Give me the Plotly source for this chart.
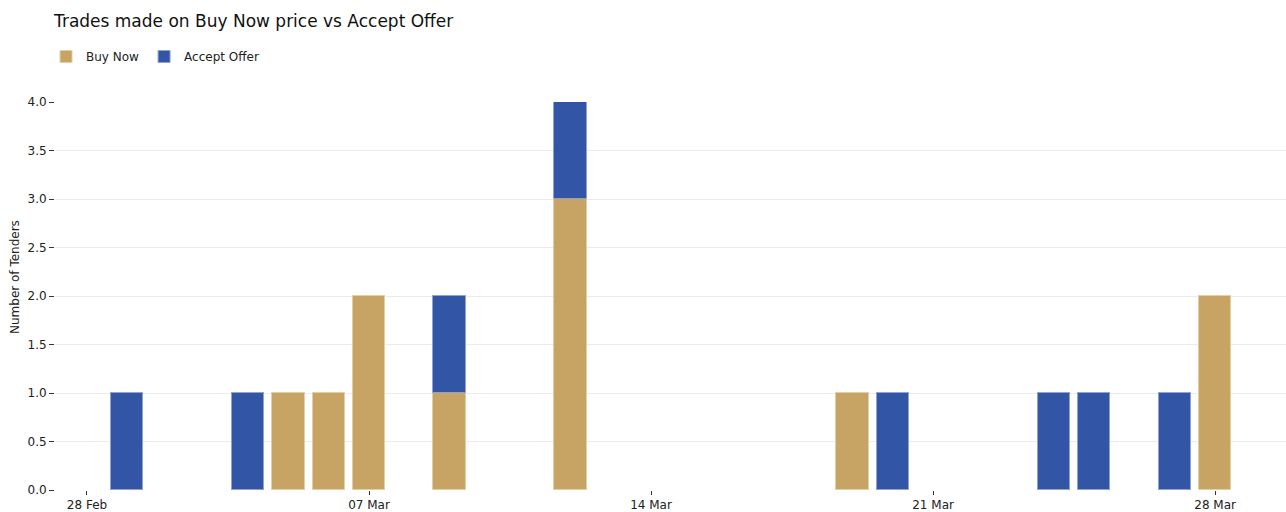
import plotly.graph_objects as go

dates = ["2023-03-01", "2023-03-04", "2023-03-05", "2023-03-06", "2023-03-07",
         "2023-03-09", "2023-03-12", "2023-03-19", "2023-03-20", "2023-03-24",
         "2023-03-25", "2023-03-27", "2023-03-28"]
buy_now = [None, None, 1, 1, 2, 1, 3, 1, None, None, None, None, 2]
accept_offer = [1, 1, None, None, None, 1, 1, None, 1, 1, 1, 1, None]

tick_vals = ["2023-02-28", "2023-03-07", "2023-03-14", "2023-03-21", "2023-03-28"]
tick_text = ["28 Feb", "07 Mar", "14 Mar", "21 Mar", "28 Mar"]

DAY_MS = 86400000
font = "DejaVu Sans"

fig = go.Figure()
fig.add_bar(x=dates, y=buy_now, name="Buy Now", width=0.8 * DAY_MS,
            marker=dict(color="#C8A464", line=dict(color="#E3CFA6", width=1)))
fig.add_bar(x=dates, y=accept_offer, name="Accept Offer", width=0.8 * DAY_MS,
            marker=dict(color="#3355A5", line=dict(color="#8FA3D1", width=1)))

fig.update_layout(
    barmode="stack",
    width=1286, height=512,
    paper_bgcolor="white", plot_bgcolor="white",
    font=dict(family=font, size=12, color="#222"),
    margin=dict(l=55, r=0, t=102, b=22),
    title=dict(text="Trades made on Buy Now price vs Accept Offer",
               x=54 / 1286, xanchor="left", y=1 - 21 / 512, yanchor="middle",
               font=dict(size=17, color="#111")),
    legend=dict(orientation="h", x=46 / 1286, xref="container", xanchor="left",
                y=1 - 42 / 512, yref="container", yanchor="top",
                font=dict(size=12), traceorder="normal",
                bgcolor="rgba(0,0,0,0)"),
    bargap=0,
    annotations=[dict(text="Number of Tenders", textangle=-90,
                      xref="paper", yref="paper", x=-40 / 1231, y=(490 - 277) / 388,
                      xanchor="center", yanchor="middle", showarrow=False,
                      font=dict(size=12, color="#222"))],
)

fig.update_xaxes(type="date", range=["2023-02-27 04:57", "2023-03-29 18:14"],
                 tickvals=tick_vals, ticktext=tick_text,
                 ticks="outside", ticklen=4, tickcolor="#333", tickwidth=1,
                 showgrid=False, showline=False, zeroline=False,
                 tickfont=dict(size=12))
fig.update_yaxes(range=[0, 4.0], dtick=0.5, tickformat=".1f",
                 ticks="outside", ticklen=5, tickcolor="#333", tickwidth=1,
                 showgrid=True, gridcolor="#EBEBEB", gridwidth=1,
                 showline=False, zeroline=False,
                 tickfont=dict(size=12))

fig.write_html("out.html", config={"displayModeBar": False},
               post_script="document.body.style.margin='0';document.body.style.overflow='hidden';")
